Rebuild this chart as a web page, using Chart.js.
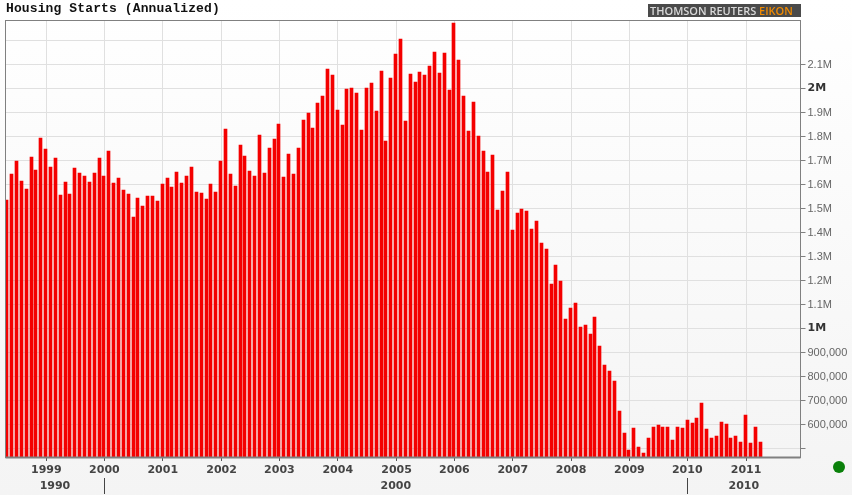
<!DOCTYPE html>
<html>
<head>
<meta charset="utf-8">
<title>Housing Starts (Annualized)</title>
<script src="https://cdn.jsdelivr.net/npm/chart.js@4"></script>
<style>
  html, body { margin: 0; padding: 0; }
  body {
    width: 852px; height: 495px; overflow: hidden; position: relative;
    background: linear-gradient(#ffffff, #f4f4f4);
  }
  canvas { position: absolute; left: 0; top: 0; }
  #title {
    position: absolute; left: 6px; top: 1px;
    font: bold 13px "Liberation Mono", monospace; letter-spacing: 0.12px; color: #111;
  }
  #logo {
    position: absolute; left: 648px; top: 4px; width: 153px; height: 13px;
    background: #4a4a4a; color: #d8d8d8; white-space: nowrap;
    font: 600 11px/13px "Open Sans", sans-serif; text-indent: 2px;
  }
  #logo span { color: #f08a00; }
  #status {
    position: absolute; left: 833px; top: 461px; width: 12px; height: 12px;
    border-radius: 50%; background: #0a800a;
  }
</style>
</head>
<body>
<canvas id="chart" width="852" height="495"></canvas>
<div id="title">Housing Starts (Annualized)</div>
<div id="logo">THOMSON REUTERS <span>EIKON</span></div>
<div id="status"></div>
<script>
const startValues = [
  1535000, 1644000, 1698000, 1615000, 1581000, 1715000, 1660000, 1794000, 1748000, 1673000,
  1710000, 1556000, 1610000, 1560000, 1669000, 1648000, 1635000, 1610000, 1648000, 1710000,
  1635000, 1740000, 1606000, 1627000, 1577000, 1560000, 1465000, 1544000, 1510000, 1552000,
  1552000, 1531000, 1602000, 1627000, 1590000, 1652000, 1606000, 1635000, 1673000, 1569000,
  1565000, 1540000, 1602000, 1569000, 1698000, 1831000, 1644000, 1594000, 1765000, 1719000,
  1656000, 1635000, 1806000, 1648000, 1752000, 1790000, 1852000, 1631000, 1727000, 1644000,
  1752000, 1869000, 1898000, 1835000, 1940000, 1969000, 2081000, 2056000, 1910000, 1848000,
  1998000, 2002000, 1981000, 1827000, 2002000, 2023000, 1906000, 2073000, 1781000, 2044000,
  2144000, 2206000, 1865000, 2060000, 2027000, 2069000, 2056000, 2094000, 2152000, 2065000,
  2148000, 1994000, 2273000, 2119000, 1969000, 1823000, 1944000, 1802000, 1740000, 1652000,
  1723000, 1494000, 1573000, 1652000, 1410000, 1481000, 1498000, 1490000, 1415000, 1448000,
  1356000, 1331000, 1185000, 1265000, 1198000, 1040000, 1085000, 1106000, 1006000, 1015000,
  977000, 1048000, 927000, 848000, 823000, 781000, 656000, 565000, 494000, 585000,
  506000, 481000, 544000, 590000, 598000, 590000, 590000, 535000, 590000, 585000,
  619000, 606000, 627000, 690000, 581000, 544000, 552000, 610000, 602000, 544000,
  552000, 527000, 640000, 523000, 590000, 527000
];

// month index of every january tick, the first bar is may 1998
const yearTicks = [8.15, 20.1, 32.1, 44.2, 56.1, 68.1, 80.2, 92.1, 104.1, 116.1, 128.1, 140, 152.1];
const yearLabels = ["1999", "2000", "2001", "2002", "2003", "2004", "2005", "2006", "2007", "2008", "2009", "2010", "2011"];

const valueTicks = [500000, 600000, 700000, 800000, 900000, 1000000, 1100000, 1200000, 1300000, 1400000,
  1500000, 1600000, 1700000, 1800000, 1900000, 2000000, 2100000, 2200000];
const valueLabels = ["", "600,000", "700,000", "800,000", "900,000", "1M", "1.1M", "1.2M", "1.3M", "1.4M",
  "1.5M", "1.6M", "1.7M", "1.8M", "1.9M", "2M", "2.1M", ""];

const decadeLabels = ["1990", "2000", "2010"];
const decadeTicks = [20.1, 140];

const xTickLabel = (value) => yearLabels[yearTicks.indexOf(value)];
const yTickLabel = (value) => valueLabels[valueTicks.indexOf(value)];
// chart.js also resolves these options without a tick while it measures
const isRound = (c) => !!c.tick && (c.tick.value === 1000000 || c.tick.value === 2000000);
const isTop = (c) => !!c.tick && c.tick.value === 2200000;

// the original draws bars on whole pixels
const snapBars = {
  id: "snapBars",
  afterDatasetsUpdate(chart) {
    chart.getDatasetMeta(0).data.forEach((bar) => {
      bar.x = Math.floor(bar.x) + 0.5;
      bar.y = Math.round(bar.y);
    });
  },
};

const frame = {
  id: "frame",
  afterDraw(chart) {
    const { ctx, chartArea: area, scales } = chart;
    ctx.save();
    ctx.strokeStyle = "#808080";
    ctx.lineWidth = 1;
    ctx.strokeRect(area.left, area.top, area.right - area.left, area.bottom - area.top + 0.5);
    ctx.fillStyle = "#808080";
    ctx.fillRect(area.left, area.bottom - 0.5, area.right - area.left, 2);

    // second row of the time axis
    const edges = [area.left, ...decadeTicks.map((v) => scales.x.getPixelForValue(v)), area.right];
    ctx.strokeStyle = "#444";
    decadeTicks.forEach((v) => {
      const x = Math.round(scales.x.getPixelForValue(v)) + 0.5;
      ctx.beginPath();
      ctx.moveTo(x, 478);
      ctx.lineTo(x, 494);
      ctx.stroke();
    });
    ctx.fillStyle = "#444";
    ctx.font = 'bold 11px "DejaVu Sans"';
    ctx.textAlign = "center";
    ctx.textBaseline = "middle";
    decadeLabels.forEach((label, i) => {
      ctx.fillText(label, (edges[i] + edges[i + 1]) / 2, 486);
    });
    ctx.restore();
  },
};

new Chart(document.getElementById("chart"), {
  type: "bar",
  plugins: [snapBars, frame],
  data: {
    datasets: [
      {
        label: "Housing Starts",
        data: startValues.map((y, x) => ({ x, y })),
        backgroundColor: "#f40000",
        barThickness: 3,
      },
    ],
  },
  options: {
    responsive: false,
    animation: false,
    events: [],
    layout: { padding: { left: 5.5, top: 20.5, right: 0, bottom: 0 } },
    plugins: { legend: { display: false }, tooltip: { enabled: false } },
    scales: {
      x: {
        type: "linear",
        offset: false,
        min: -0.25,
        max: 163.3,
        afterBuildTicks(scale) {
          scale.ticks = yearTicks.map((value) => ({ value }));
        },
        afterFit(scale) {
          scale.height = 38;
        },
        border: { display: false },
        grid: { offset: false, color: "#e0e0e0", tickColor: "#555", tickLength: 4 },
        ticks: {
          autoSkip: false,
          maxRotation: 0,
          padding: 3,
          color: "#444",
          font: { family: "DejaVu Sans", size: 11, weight: "bold" },
          callback: xTickLabel,
        },
      },
      y: {
        position: "right",
        min: 464583,
        max: 2283333,
        afterBuildTicks(scale) {
          scale.ticks = valueTicks.map((value) => ({ value }));
        },
        afterFit(scale) {
          scale.width = 51.5;
        },
        border: { display: false },
        grid: {
          color: "#e0e0e0",
          tickLength: 5,
          tickColor: (c) => (isTop(c) ? "transparent" : "#808080"),
        },
        ticks: {
          autoSkip: false,
          padding: 2,
          color: (c) => (isRound(c) ? "#333" : "#666"),
          font: (c) => ({
            family: isRound(c) ? "DejaVu Sans" : "Liberation Sans",
            size: 11,
            weight: isRound(c) ? "bold" : "normal",
          }),
          callback: yTickLabel,
        },
      },
    },
  },
});
</script>
</body>
</html>
